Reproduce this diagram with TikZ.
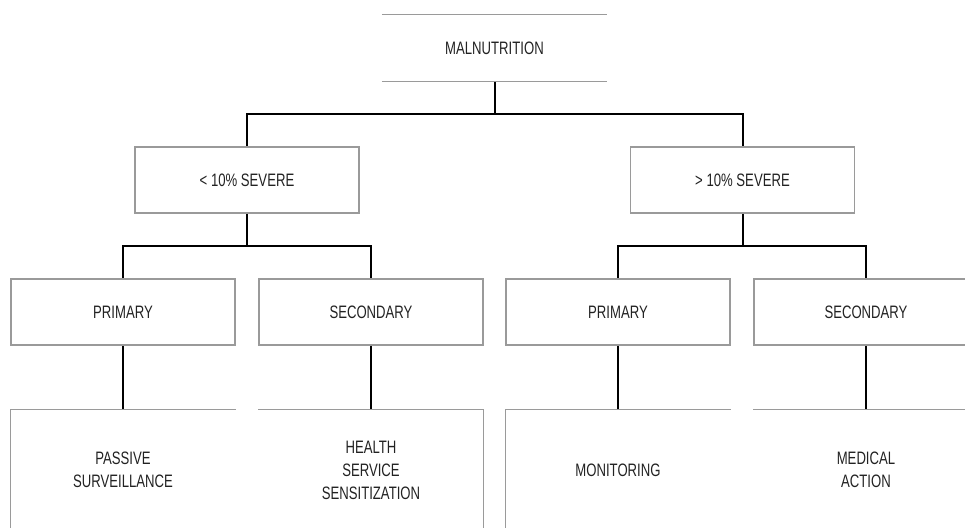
\documentclass[tikz,border=0pt]{standalone}
\usepackage{fontspec}
\setmainfont{Liberation Sans}[FakeStretch=0.73]
\definecolor{boxgray}{HTML}{9A9A9A}
\definecolor{textgray}{HTML}{222222}
\tikzset{
  box/.style={draw=boxgray, line width=0.75pt, minimum width=112pt,
    minimum height=33pt, inner sep=0pt, align=center, text=textgray,
    font=\fontsize{9}{11.5}\selectfont},
  openbox/.style={box, draw=none},
  edge/.style={draw=black, line width=1pt},
  thin/.style={draw=boxgray, line width=0.5pt}
}

\begin{document}
\begin{tikzpicture}[x=0.5pt, y=-0.5pt]
  \clip (0,0) rectangle (965,527);
  % top level
  \node[openbox] (mal) at (494.5,48) {MALNUTRITION};
  \draw[thin] (mal.north west) -- (mal.north east)
              (mal.south west) -- (mal.south east);
  % severity
  \node[box] (sevlow) at (247,180) {< 10\% SEVERE};
  \node[box] (sevhigh) at (742.5,180) {> 10\% SEVERE};
  % prevention
  \node[box] (pri1) at (123,312) {PRIMARY};
  \node[box] (sec1) at (371,312) {SECONDARY};
  \node[box] (pri2) at (618,312) {PRIMARY};
  \node[box] (sec2) at (866,312) {SECONDARY};
  % actions
  \node[openbox, minimum height=60pt] (pas) at (123,470) {PASSIVE\\SURVEILLANCE};
  \node[openbox, minimum height=60pt] (hea) at (371,470) {HEALTH\\SERVICE\\SENSITIZATION};
  \node[openbox, minimum height=60pt] (mon) at (618,470) {MONITORING};
  \node[openbox, minimum height=60pt] (med) at (866,470) {MEDICAL\\ACTION};
  \draw[thin] (pas.south west) -- (pas.north west) -- (pas.north east);
  \draw[thin] (hea.north west) -- (hea.north east) -- (hea.south east);
  \draw[thin] (mon.south west) -- (mon.north west) -- (mon.north east);
  \draw[thin] (med.north west) -- (med.north east);

  \coordinate (split0) at (494.5,114);
  \coordinate (split1) at (247,246);
  \coordinate (split2) at (742.5,246);
  \draw[edge] (mal.south) -- (split0) -| (sevlow.north);
  \draw[edge] (split0) -| (sevhigh.north);
  \draw[edge] (sevlow.south) -- (split1) -| (pri1.north);
  \draw[edge] (split1) -| (sec1.north);
  \draw[edge] (sevhigh.south) -- (split2) -| (pri2.north);
  \draw[edge] (split2) -| (sec2.north);
  \draw[edge] (pri1.south) -- (pas.north);
  \draw[edge] (sec1.south) -- (hea.north);
  \draw[edge] (pri2.south) -- (mon.north);
  \draw[edge] (sec2.south) -- (med.north);
\end{tikzpicture}
\end{document}
